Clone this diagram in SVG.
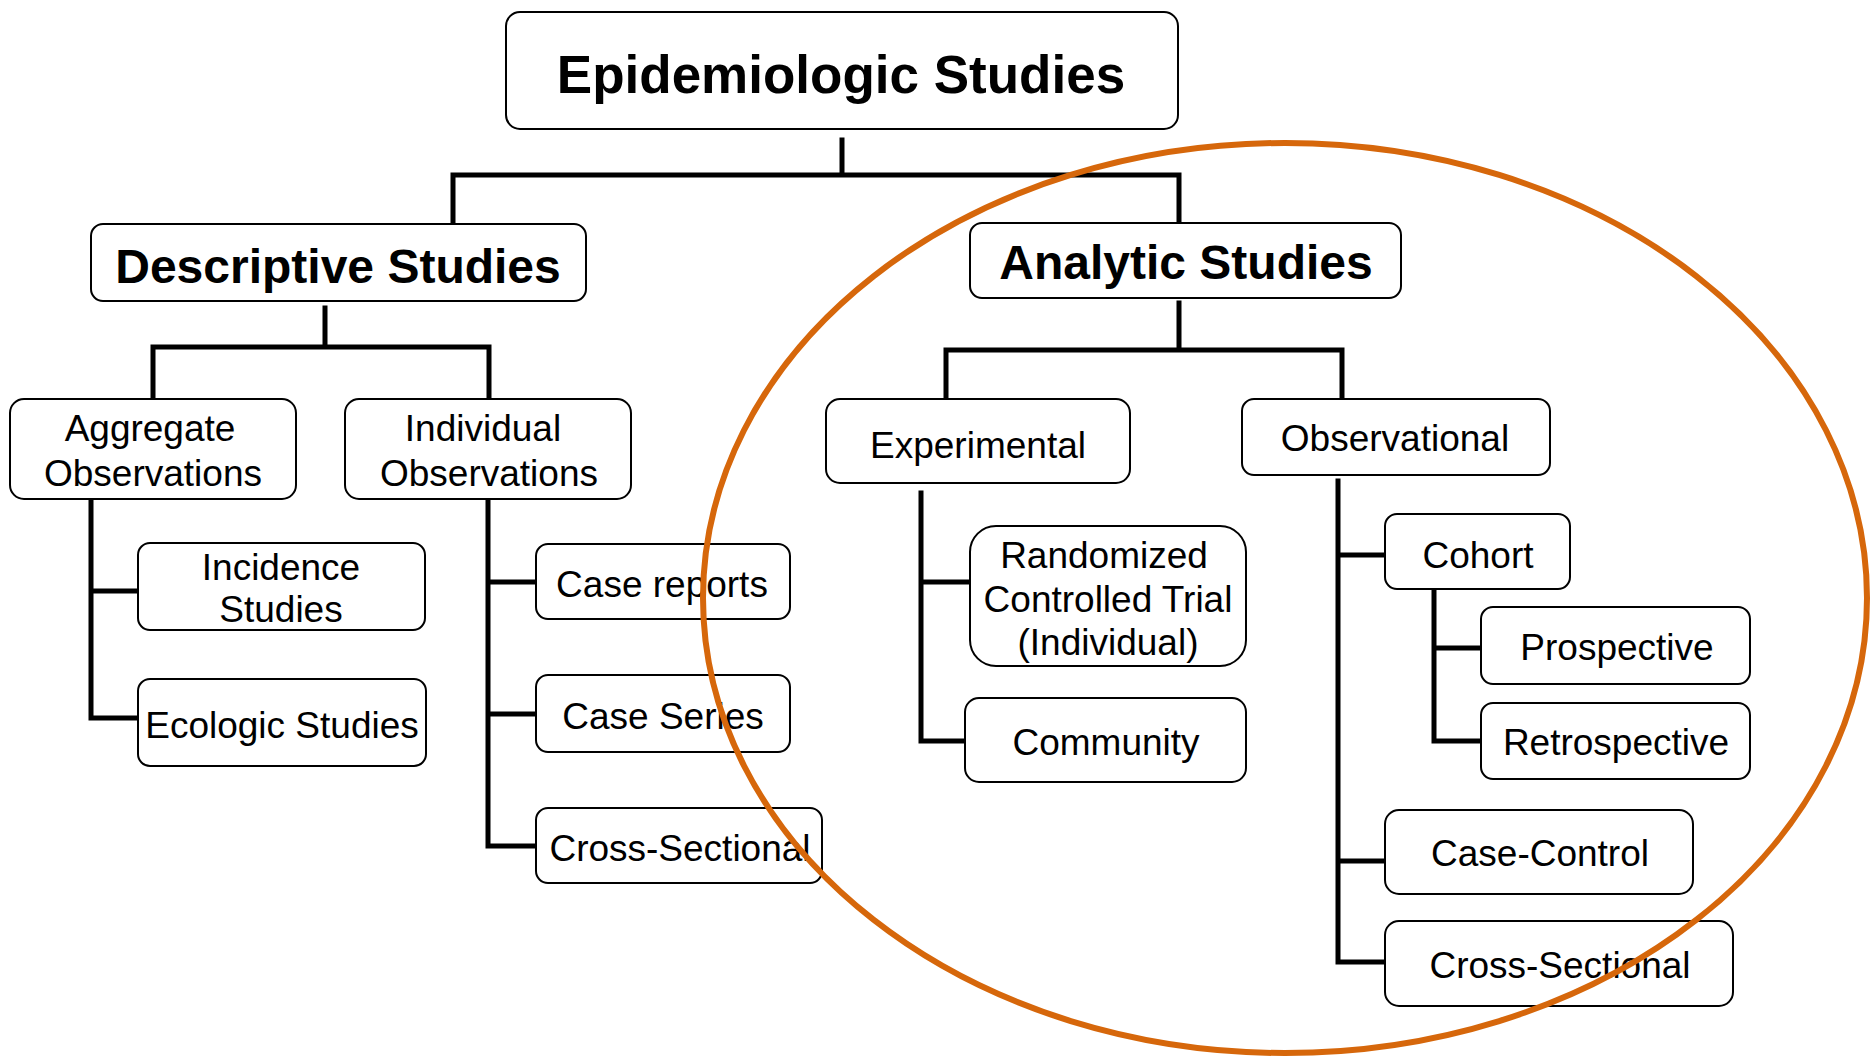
<svg xmlns="http://www.w3.org/2000/svg" width="1871" height="1056" viewBox="0 0 1871 1056">
  <style>
    .box { fill: #ffffff; stroke: #000000; stroke-width: 2; }
    .lbl { font-family: "Liberation Sans", Arial, sans-serif; font-size: 37px; fill: #000000; text-anchor: middle; }
    .head { font-family: "Liberation Sans", Arial, sans-serif; font-weight: bold; font-size: 48px; fill: #000000; text-anchor: middle; }
    .conn { fill: none; stroke: #000000; stroke-width: 5; stroke-linejoin: miter; stroke-linecap: square; }
    .ring { fill: none; stroke: #D6670B; stroke-width: 6; }
  </style>
  <rect x="0" y="0" width="1871" height="1056" fill="#ffffff"/>

  <!-- tree connectors -->
  <g id="connectors">
    <path class="conn" d="M842 140 V175 M453 223 V175 H1179 V223"/>
    <path class="conn" d="M325 308 V347 M153 399 V347 H489 V399"/>
    <path class="conn" d="M1179 303 V350 M946 399 V350 H1342 V399"/>
    <path class="conn" d="M91 501 V718 H138 M91 591 H138"/>
    <path class="conn" d="M488 501 V846 H536 M488 582 H536 M488 714 H536"/>
    <path class="conn" d="M921 493 V741 H965 M921 582 H970"/>
    <path class="conn" d="M1338 481 V962 H1385 M1338 555 H1385 M1338 861 H1385"/>
    <path class="conn" d="M1434 591 V741 H1481 M1434 648 H1481"/>
  </g>

  <g id="epidemiologic-studies">
    <rect class="box" x="506" y="12" width="672" height="117" rx="14"/>
    <text class="head" x="841" y="93" style="font-size:53px">Epidemiologic Studies</text>
  </g>

  <g id="descriptive-studies">
    <rect class="box" x="91" y="224" width="495" height="77" rx="12"/>
    <text class="head" x="338" y="283">Descriptive Studies</text>
  </g>

  <g id="analytic-studies">
    <rect class="box" x="970" y="223" width="431" height="75" rx="12"/>
    <text class="head" x="1186" y="279">Analytic Studies</text>
  </g>

  <g id="aggregate-observations">
    <rect class="box" x="10" y="399" width="286" height="100" rx="14"/>
    <text class="lbl" x="150" y="441">Aggregate</text>
    <text class="lbl" x="153" y="486">Observations</text>
  </g>

  <g id="individual-observations">
    <rect class="box" x="345" y="399" width="286" height="100" rx="14"/>
    <text class="lbl" x="483" y="441">Individual</text>
    <text class="lbl" x="489" y="486">Observations</text>
  </g>

  <g id="incidence-studies">
    <rect class="box" x="138" y="543" width="287" height="87" rx="12"/>
    <text class="lbl" x="281" y="580">Incidence</text>
    <text class="lbl" x="281" y="622">Studies</text>
  </g>

  <g id="ecologic-studies">
    <rect class="box" x="138" y="679" width="288" height="87" rx="12"/>
    <text class="lbl" x="282" y="738">Ecologic Studies</text>
  </g>

  <g id="case-reports">
    <rect class="box" x="536" y="544" width="254" height="75" rx="12"/>
    <text class="lbl" x="662" y="597">Case reports</text>
  </g>

  <g id="case-series">
    <rect class="box" x="536" y="675" width="254" height="77" rx="12"/>
    <text class="lbl" x="663" y="729">Case Series</text>
  </g>

  <g id="cross-sectional-descriptive">
    <rect class="box" x="536" y="808" width="286" height="75" rx="12"/>
    <text class="lbl" x="680" y="861">Cross-Sectional</text>
  </g>

  <g id="experimental">
    <rect class="box" x="826" y="399" width="304" height="84" rx="14"/>
    <text class="lbl" x="978" y="458">Experimental</text>
  </g>

  <g id="observational">
    <rect class="box" x="1242" y="399" width="308" height="76" rx="12"/>
    <text class="lbl" x="1395" y="451">Observational</text>
  </g>

  <g id="randomized-controlled-trial">
    <rect class="box" x="970" y="526" width="276" height="140" rx="26"/>
    <text class="lbl" x="1104" y="568">Randomized</text>
    <text class="lbl" x="1108" y="612">Controlled Trial</text>
    <text class="lbl" x="1108" y="655">(Individual)</text>
  </g>

  <g id="community">
    <rect class="box" x="965" y="698" width="281" height="84" rx="14"/>
    <text class="lbl" x="1106" y="755">Community</text>
  </g>

  <g id="cohort">
    <rect class="box" x="1385" y="514" width="185" height="75" rx="12"/>
    <text class="lbl" x="1478" y="568">Cohort</text>
  </g>

  <g id="prospective">
    <rect class="box" x="1481" y="607" width="269" height="77" rx="12"/>
    <text class="lbl" x="1617" y="660">Prospective</text>
  </g>

  <g id="retrospective">
    <rect class="box" x="1481" y="703" width="269" height="76" rx="12"/>
    <text class="lbl" x="1616" y="755">Retrospective</text>
  </g>

  <g id="case-control">
    <rect class="box" x="1385" y="810" width="308" height="84" rx="14"/>
    <text class="lbl" x="1540" y="866">Case-Control</text>
  </g>

  <g id="cross-sectional-analytic">
    <rect class="box" x="1385" y="921" width="348" height="85" rx="14"/>
    <text class="lbl" x="1560" y="978">Cross-Sectional</text>
  </g>

  <!-- highlight ring around the analytic branch -->
  <ellipse class="ring" cx="1285" cy="598" rx="582" ry="455"/>
</svg>
